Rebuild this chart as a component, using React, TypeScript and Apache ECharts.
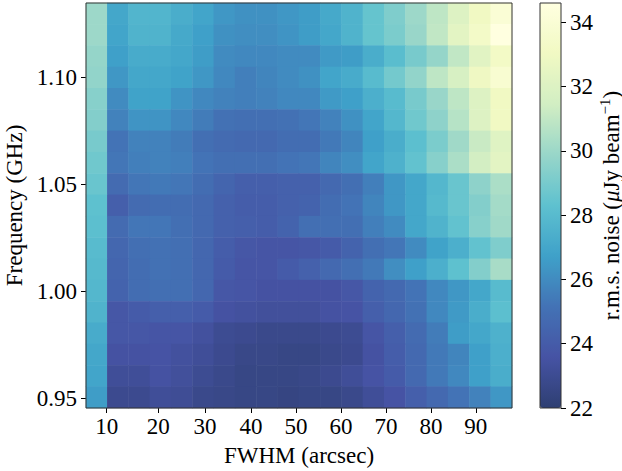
import React, { useEffect, useRef } from "react";
import * as echarts from "echarts";

const row00 = [30.0,27.0,27.7,27.7,27.3,26.9,26.4,26.2,26.2,26.4,26.6,27.1,27.6,28.5,29.2,30.0,30.9,32.0,33.0,34.0];
const row01 = [30.0,26.9,27.6,27.6,27.1,26.7,26.2,26.1,26.1,26.3,26.6,27.0,27.6,28.5,29.1,29.9,31.0,32.3,33.3,34.6];
const row02 = [29.8,26.7,27.2,27.2,27.0,26.6,26.0,25.9,25.9,26.0,26.0,26.5,26.6,27.3,28.1,29.0,29.8,31.0,32.2,33.2];
const row03 = [29.7,26.4,27.0,27.0,26.8,26.4,25.9,25.6,25.8,26.0,26.2,26.9,27.2,28.0,28.9,29.7,30.9,31.7,32.9,33.8];
const row04 = [29.4,26.0,26.8,26.8,26.3,25.9,25.7,25.6,25.7,25.9,25.9,26.5,26.7,27.4,28.0,29.0,29.9,30.9,32.0,33.0];
const row05 = [29.3,25.7,26.3,26.3,25.9,25.5,25.1,25.0,25.0,25.1,25.3,25.7,26.2,26.9,27.8,28.8,29.6,30.7,32.0,33.0];
const row06 = [29.0,25.2,25.7,25.7,25.5,25.0,24.8,24.7,24.7,24.9,24.9,25.4,25.8,26.7,27.3,28.2,29.1,30.1,31.2,32.1];
const row07 = [28.8,25.3,25.6,25.7,25.6,25.2,25.0,25.0,25.0,25.2,25.3,25.8,26.1,26.9,27.5,28.4,29.4,30.4,31.5,32.3];
const row08 = [28.6,24.8,25.3,25.4,25.3,24.9,24.5,24.2,24.2,24.3,24.3,24.7,25.0,25.6,26.4,27.0,27.8,28.6,29.6,30.4];
const row09 = [28.3,24.2,24.8,24.9,24.9,24.7,24.3,24.1,24.1,24.3,24.4,24.9,25.2,25.8,26.4,27.0,27.9,28.6,29.3,30.2];
const row10 = [28.2,24.8,25.3,25.3,25.0,24.7,24.3,24.2,24.1,24.4,25.0,25.0,25.0,25.6,26.0,27.0,27.6,28.4,29.4,30.1];
const row11 = [28.0,24.6,25.0,25.1,25.0,24.6,24.1,23.8,23.7,23.7,23.8,24.0,24.4,25.0,25.3,26.0,26.8,27.4,28.4,29.2];
const row12 = [27.9,24.5,24.9,25.1,25.0,24.6,24.0,23.7,23.7,24.0,24.3,24.7,25.0,25.4,26.1,26.7,27.4,28.3,29.3,30.3];
const row13 = [27.8,24.4,24.9,25.0,25.0,24.6,23.8,23.7,23.5,23.5,23.5,23.5,23.8,24.4,24.7,25.2,25.9,26.4,27.0,28.0];
const row14 = [27.6,23.8,24.0,24.2,24.2,24.0,23.5,23.4,23.3,23.3,23.3,23.5,23.6,24.2,24.6,25.1,25.9,26.5,27.3,28.2];
const row15 = [27.2,23.8,23.8,23.7,23.7,23.4,23.0,22.9,22.8,22.8,22.8,22.9,23.0,23.7,24.2,24.8,25.5,26.6,27.0,27.5];
const row16 = [27.0,23.5,23.5,23.6,23.4,23.2,22.9,22.7,22.7,22.6,22.6,22.8,22.9,23.5,24.1,24.7,25.4,25.8,26.7,27.4];
const row17 = [26.9,23.2,23.2,23.5,23.3,23.0,22.8,22.6,22.6,22.6,22.7,22.9,23.2,23.6,24.0,24.7,25.4,25.9,26.7,27.3];
const row18 = [26.6,22.9,22.9,23.2,23.1,22.8,22.7,22.6,22.6,22.5,22.6,22.6,22.8,23.2,23.6,24.2,24.7,25.2,25.7,26.4];
const rowsTopDown = [row00,row01,row02,row03,row04,row05,row06,row07,row08,row09,row10,row11,row12,row13,row14,row15,row16,row17,row18];

const xTickLabels = ["10","20","30","40","50","60","70","80","90"];
const xTickCells = [0.97,3.39,5.59,7.75,9.86,11.97,14.08,16.2,18.3];
const yTicks = [0.95,1.0,1.05,1.1];
const colorbarTicks = [22,24,26,28,30,32,34];
const palette = ["#2e3f72","#4653a4","#4372b5","#3fa1c9","#5ec1cf","#98d6c9","#d2eec3","#f1f9c3","#ffffe0"];

const FONT = "Liberation Serif";
const INK = "#000";
const SIZE = 23;

export default function App() {
  const ref = useRef<HTMLDivElement>(null);
  useEffect(() => {
    document.body.style.margin = "0";
    const chart = echarts.init(ref.current!, undefined, { renderer: "svg" });
    const cols = row00.map((_, i) => String(i));
    const rows = rowsTopDown.map((_, i) => String(i));
    const data: number[][] = [];
    rowsTopDown.forEach((r, ri) => r.forEach((v, ci) => data.push([ci, rowsTopDown.length - 1 - ri, v])));
    const xName = (v: number) => xTickLabels[xTickCells.indexOf(v)] ?? "";
    chart.setOption({
      animation: false,
      backgroundColor: "#fff",
      textStyle: { fontFamily: FONT },
      grid: [
        { left: 86, top: 3, width: 426, height: 405, outerBoundsMode: "none", show: true, borderColor: "#333", borderWidth: 1, backgroundColor: "transparent", z: 5 },
        { left: 540, top: 3, width: 21, height: 405, outerBoundsMode: "none", show: true, borderColor: "#333", borderWidth: 1, backgroundColor: "transparent", z: 5 },
      ],
      xAxis: [
        { type: "category", data: cols, gridIndex: 0, show: false },
        {
          type: "value", gridIndex: 0, position: "bottom", min: 0, max: 20, splitLine: { show: false },
          axisLine: { show: false, onZero: false },
          axisTick: { show: true, length: 5, customValues: xTickCells, lineStyle: { color: INK, width: 1 } },
          axisLabel: { customValues: xTickCells, formatter: xName, fontFamily: FONT, fontSize: SIZE, color: INK, margin: 7 },
          name: "FWHM (arcsec)", nameLocation: "middle", nameGap: 36,
          nameTextStyle: { fontFamily: FONT, fontSize: SIZE, color: INK },
        },
        { type: "category", data: ["0"], gridIndex: 1, show: false },
      ],
      yAxis: [
        { type: "category", data: rows, gridIndex: 0, show: false },
        {
          type: "value", gridIndex: 0, position: "left", min: 0.9455, max: 1.1347, splitLine: { show: false },
          axisLine: { show: false, onZero: false },
          axisTick: { show: true, length: 5, customValues: yTicks, lineStyle: { color: INK, width: 1 } },
          axisLabel: { customValues: yTicks, formatter: (v: number) => v.toFixed(2), fontFamily: FONT, fontSize: SIZE, color: INK, margin: 9 },
          name: "Frequency (GHz)", nameLocation: "middle", nameGap: 56, nameRotate: 90,
          nameTextStyle: { fontFamily: FONT, fontSize: SIZE, color: INK },
        },
        {
          type: "value", gridIndex: 1, position: "right", min: 22, max: 34.6, splitLine: { show: false },
          axisLine: { show: false, onZero: false },
          axisTick: { show: true, length: 5, customValues: colorbarTicks, lineStyle: { color: INK, width: 1 } },
          axisLabel: { customValues: colorbarTicks, fontFamily: FONT, fontSize: SIZE, color: INK, margin: 9 },
          name: "r.m.s. noise ({i|\u03bc}Jy beam{s|\u22121})", nameLocation: "middle", nameGap: 36, nameRotate: 90,
          nameTextStyle: {
            fontFamily: FONT, fontSize: SIZE, color: INK,
            rich: {
              i: { fontFamily: FONT, fontSize: SIZE, fontStyle: "italic", color: INK },
              s: { fontFamily: FONT, fontSize: 15, color: INK, verticalAlign: "top", lineHeight: 28 },
            },
          },
        },
      ],
      visualMap: {
        type: "continuous", min: 22, max: 34.6, seriesIndex: 0, calculable: false, realtime: false,
        orient: "vertical", left: 540, top: 3, padding: 0, itemWidth: 21, itemHeight: 405, text: ["", ""],
        showLabel: false, hoverLink: false, inRange: { color: palette },
      },
      series: [
        {
          type: "heatmap", xAxisIndex: 0, yAxisIndex: 0, data, progressive: 0,
          itemStyle: { borderWidth: 0 }, emphasis: { disabled: true },
        },
      ],
    });
    return () => chart.dispose();
  }, []);
  return <div ref={ref} style={{ width: 622, height: 471, position: "absolute", left: 0, top: 0 }} />;
}
